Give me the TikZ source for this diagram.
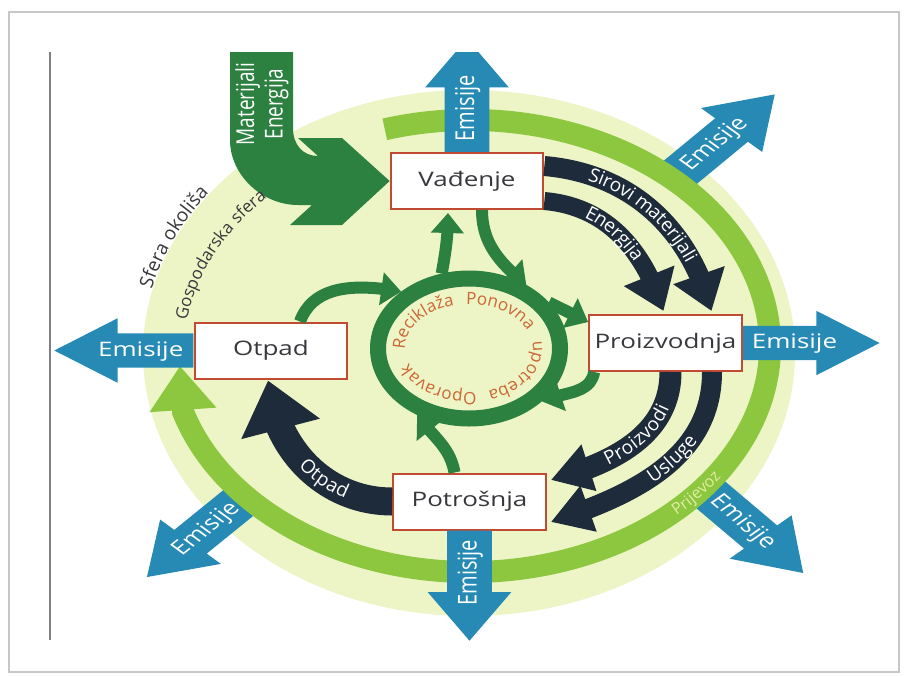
\documentclass[tikz,border=0pt]{standalone}
\usepackage{fontspec}
\setmainfont{Open Sans}
\usetikzlibrary{arrows.meta,bending,shapes.geometric,shapes.arrows,decorations.text}

\definecolor{paledisc}{RGB}{237,245,198}
\definecolor{limering}{RGB}{141,198,63}
\definecolor{emblue}{RGB}{38,138,180}
\definecolor{navyband}{RGB}{30,43,58}
\definecolor{dgreen}{RGB}{44,128,64}
\definecolor{boxred}{RGB}{192,74,50}
\definecolor{boxtext}{RGB}{55,55,60}
\definecolor{recred}{RGB}{204,102,52}
\definecolor{prijtext}{RGB}{226,238,165}

\newcommand\boxfont{\fontsize{20}{24}\selectfont}
\newcommand\emfont{\fontsize{20}{24}\selectfont}
\newcommand\bandfont{\fontsize{19}{22}\selectfont}
\newcommand\ringfont{\fontsize{17}{20}\selectfont}

\pgfdeclarelayer{background}
\pgfsetlayers{background,main}

\tikzset{
  box/.style={draw=boxred, line width=2pt, fill=white, text=boxtext, font=\boxfont,
    minimum width=117pt, minimum height=56pt, inner sep=2pt, xscale=1.3},
  emis/.style={single arrow, fill=emblue, text=white, font=\emfont, xscale=1.3,
    single arrow head extend=15pt, single arrow tip angle=67,
    text height=15pt, text depth=4pt, inner ysep=7.5pt, inner xsep=3pt},
  band/.style={draw=navyband, line width=20pt, -{Triangle[width=52pt,length=38pt]}},
  recyc/.style={draw=dgreen, line width=12pt, -{Triangle[width=32pt,length=20pt]}},
  bandtext/.style 2 args={decorate, decoration={text along path,
    text={|\color{white}\bandfont|#1}, text align={left indent=#2}, raise=-6pt}},
}

\begin{document}
\begin{tikzpicture}[x=1pt,y=1pt]

	\begin{pgfonlayer}{background}
		% page and frame
		\fill[white] (0,0) rectangle (904,-675);
		\draw[black!22, line width=2pt] (9,-12) rectangle (899,-672);
		\draw[black!50, line width=1.2pt] (50,-52) -- (50,-640);

		% sphere
		\fill[paledisc] (469,-353) ellipse[x radius=326, y radius=263];

		% diagonal emissions
		\node[emis, rotate=47, anchor=tail, minimum height=110pt] (etr) at (677,-175) {Emisije};
		\node[emis, rotate=-47.7, anchor=tail, minimum height=112pt] (ebr) at (705,-490) {Emisije};
		\node[emis, rotate=46.5, shape border rotate=180, anchor=tail, minimum height=106pt] (ebl) at (242,-500) {Emisije};

		% transport ring
		\draw[limering, line width=22pt, -{Triangle[width=64pt,length=44pt]}]
			(384.8,-129.3) arc[start angle=106.5, end angle=-163, x radius=300, y radius=226]
			-- (180,-366);
	\end{pgfonlayer}
	\useasboundingbox (0,0) rectangle (904,-675);

	% boxes
	\node[box] (vad) at (467,-181) {Vađenje};
	\node[box] (pro) at (665.5,-343) {Proizvodnja};
	\node[box] (pot) at (469.5,-501.5) {Potrošnja};
	\node[box] (otp) at (271,-350.5) {Otpad};

	% emissions
	\begin{scope}
		\clip (48,-52) rectangle (875,-640);
		\node[emis, rotate=90, anchor=tail, minimum height=113pt] (etop) at (vad.north) {Emisije};
	\end{scope}
	\node[emis, anchor=tail, minimum height=105pt] (eright) at (pro.east) {Emisije};
	\node[emis, shape border rotate=180, anchor=tail, minimum height=107pt] (eleft) at (otp.west) {Emisije};
	\node[emis, rotate=90, shape border rotate=180, anchor=tail, minimum height=110pt] (ebot) at (pot.south) {Emisije};

	% input
	\fill[dgreen] (230,-52) -- (293,-52) -- (293,-128)
		.. controls (293,-145) and (303,-156) .. (318,-156)
		-- (298,-138) -- (342,-138) -- (vad.west) -- (342,-225) -- (290,-225)
		-- (312,-205) -- (298,-205)
		.. controls (262,-205) and (230,-175) .. (230,-140) -- cycle;
	\node[xscale=1.3, rotate=90, align=center, text=white, font=\fontsize{19}{22}\selectfont]
		(mat) at (262,-104) {Materijali\\Energija};

	% main flows
	\draw[band] ([yshift=15pt]vad.east) to[out=-5,in=105] ([xshift=46pt,yshift=3pt]pro.north);
	\draw[band, line width=18pt] ([yshift=-20pt]vad.east) to[out=-5,in=108] ([xshift=-2pt,yshift=3pt]pro.north);
	\draw[band, line width=22pt, -{Triangle[width=46pt,length=40pt]}]
		([xshift=5pt]pro.south) to[out=-90,in=15] ([xshift=4pt,yshift=21.5pt]pot.east);
	\draw[band, line width=20pt, -{Triangle[width=46pt,length=40pt]}]
		([xshift=46.5pt]pro.south) to[out=-90,in=18] ([xshift=4pt,yshift=-20.5pt]pot.east);
	\draw[band, line width=28pt, -{Triangle[width=78pt,length=50pt]}]
		(pot.west) to[out=180,in=-85] ([xshift=-3pt,yshift=-1pt]otp.south);

	% recycling loop
	\node[ellipse, draw=dgreen, line width=16pt, minimum width=182pt, minimum height=140pt, inner sep=0pt] (ring) at (469,-348.5) {};
	\draw[recyc] (ring.110) to[out=80,in=-90] ([xshift=-19pt,yshift=-3pt]vad.south);
	\draw[recyc] ([xshift=15pt]vad.south) to[out=-90,in=140] (ring.48);
	\draw[recyc] (ring.30) -- ([yshift=21pt]pro.west);
	\draw[recyc] ([xshift=6pt]pro.south west) to[out=-100,in=25] (ring.-36);
	\draw[recyc] ([xshift=-15pt]pot.north) to[out=100,in=-55] (ring.232);
	\draw[recyc] ([xshift=29pt]otp.north) to[out=70,in=170] (ring.140);

	% labels along the flows
	\path[bandtext={Sirovi materijali}{46pt}] ([yshift=15pt]vad.east) to[out=-5,in=105] ([xshift=46pt,yshift=3pt]pro.north);
	\path[bandtext={Energija}{44pt}] ([yshift=-20pt]vad.east) to[out=-5,in=108] ([xshift=-2pt,yshift=3pt]pro.north);
	\path[bandtext={Proizvodi}{58pt}] ([xshift=4pt,yshift=21.5pt]pot.east) to[out=15,in=-90] ([xshift=5pt]pro.south);
	\path[bandtext={Usluge}{108pt}] ([xshift=4pt,yshift=-20.5pt]pot.east) to[out=18,in=-90] ([xshift=46.5pt]pro.south);
	\path[bandtext={Otpad}{90pt}] ([xshift=-3pt,yshift=-1pt]otp.south) to[out=-85,in=180] (pot.west);

	\path[decorate, decoration={text along path,
		text={|\color{recred}\ringfont|Reciklaža Ponovna upotreba Oporavak},
		text align=fit to path stretching spaces}]
		(405,-350) arc[start angle=182, end angle=-160, x radius=64, y radius=44];
	\path[decorate, decoration={text along path,
		text={|\color{prijtext}\fontsize{16}{18}\selectfont|Prijevoz}, text align=center, raise=-5pt}]
		(650.5,-526.5) arc[start angle=-53, end angle=-28, x radius=300, y radius=226];
	\path[decorate, decoration={text along path,
		text={|\color{boxtext}\fontsize{17}{20}\selectfont|Gospodarska sfera}, text align=center, raise=2pt}]
		(188.1,-326.4) arc[start angle=173, end angle=134, x radius=283, y radius=218];
	\path[decorate, decoration={text along path,
		text={|\color{boxtext}\fontsize{19}{22}\selectfont|Sfera okoliša}, text align=center, raise=1pt}]
		(149,-302.8) arc[start angle=169, end angle=140, x radius=326, y radius=263];

\end{tikzpicture}
\end{document}
